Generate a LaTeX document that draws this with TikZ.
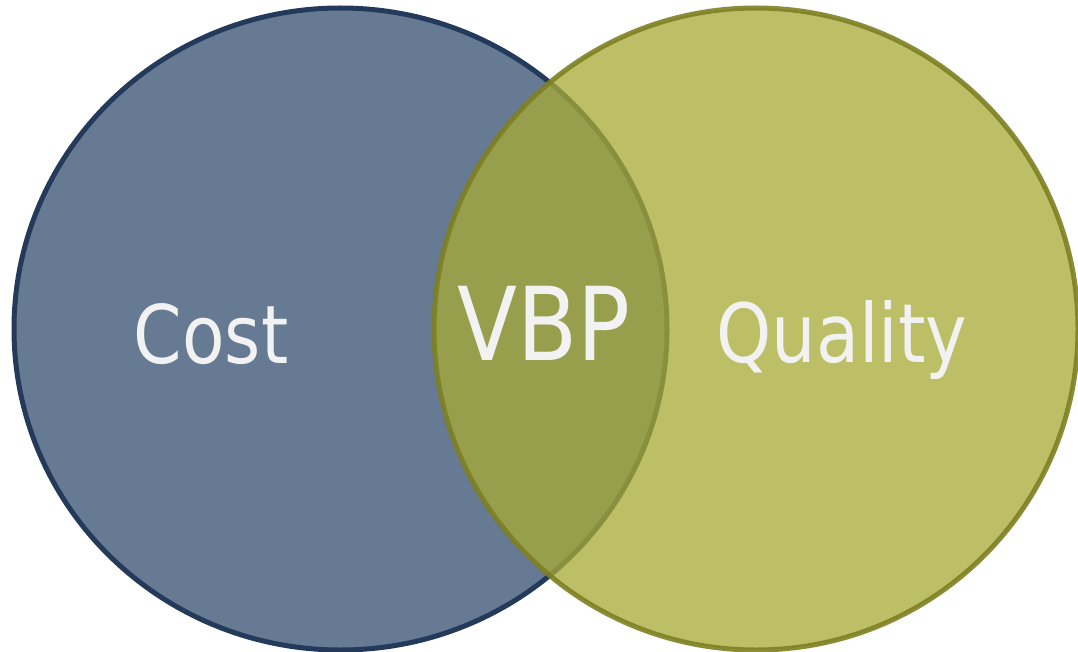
\documentclass[tikz,border=0pt]{standalone}
\usepackage{fontspec}
\newfontfamily\vennfont[FakeStretch=0.86]{DejaVu Sans}
\definecolor{costfill}{HTML}{677A93}
\definecolor{costline}{HTML}{243A5A}
\definecolor{qualfill}{RGB}{168,171,54}
\definecolor{qualline}{HTML}{7D7F22}
\definecolor{labelwhite}{HTML}{F2F2F2}
\newcommand\VennLabel[5]{
	\node [venn label] (#1) at (#2,#3) {\fontsize{#4}{#4}\selectfont #5};
}

\begin{document}
\begin{tikzpicture}[x=0.02cm, y=-0.02cm, venn label/.style={anchor=base, inner sep=0pt, text=labelwhite, font=\vennfont}]
	\useasboundingbox (0,0) rectangle (1078,652);
	% the two sets
	\path [fill=costfill, draw=costline, line width=5*0.02cm] (340.5,329) ellipse [x radius=326.5, y radius=321];
	\path [fill=qualfill, fill opacity=0.76, draw=qualline, draw opacity=0.9, line width=5*0.02cm] (756,329) ellipse [x radius=322, y radius=321];
	% labels
	\VennLabel{cost}{211}{363}{46pt}{Cost}
	\VennLabel{vbp}{544}{360}{58pt}{VBP}
	\VennLabel{quality}{842}{362}{46.5pt}{Quality}
\end{tikzpicture}
\end{document}
